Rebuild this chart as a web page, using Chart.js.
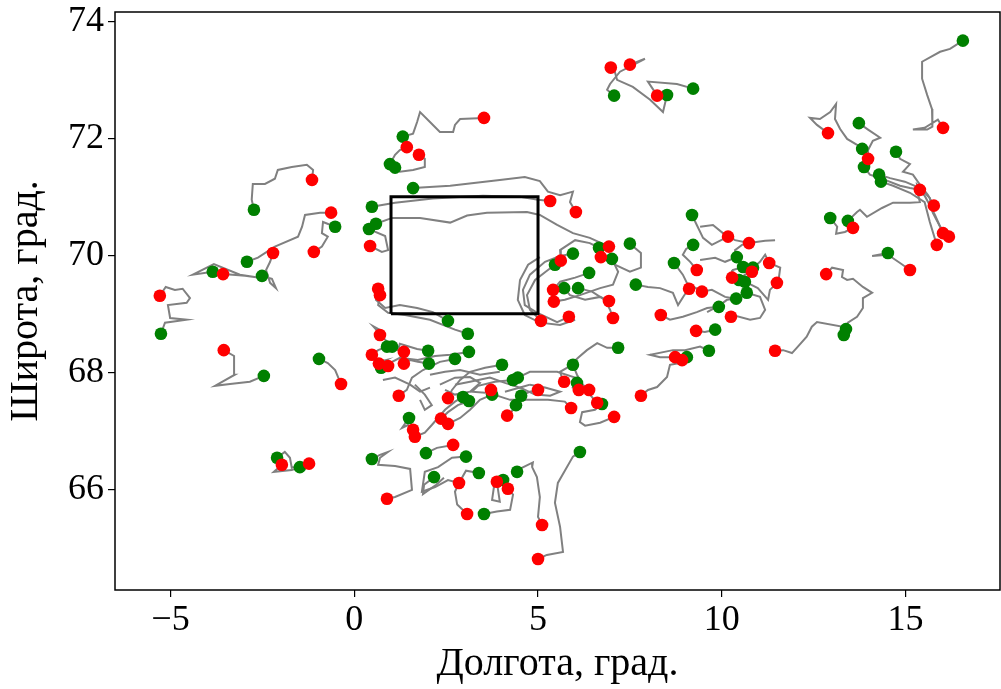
<!DOCTYPE html>
<html>
<head>
<meta charset="utf-8">
<script src="https://cdn.jsdelivr.net/npm/chart.js@4.4.1/dist/chart.umd.min.js"></script>
<style>
  html, body { margin: 0; padding: 0; background: #fff; }
  #chart-container { width: 1001px; height: 689px; }
</style>
</head>
<body>
<div id="chart-container"><canvas id="myChart" width="1001" height="689"></canvas></div>
<script>
// axis ticks
const xTicks = [-5, 0, 5, 10, 15]
const yTicks = [66, 68, 70, 72, 74]

// study area box (lon / lat corners)
const boxLon = [1, 1, 5, 5, 1]
const boxLat = [69, 71, 71, 69, 69]

// drifter tracks, [lon, lat]
const tracks = [
  // west
  [[-2.73,70.78],[-2.79,70.95],[-2.76,71.22],[-2.43,71.22],[-2.16,71.31],[-2.08,71.46],[-1.70,71.51],[-1.29,71.55],[-1.12,71.46],[-1.15,71.29]],
  [[-2.92,69.89],[-2.62,69.96],[-2.16,70.15],[-1.53,70.32],[-1.42,70.49],[-1.34,70.69],[-0.93,70.73],[-0.63,70.73]],
  [[-0.52,70.49],[-0.85,70.57],[-0.88,70.38],[-0.72,70.32],[-0.88,70.15],[-1.10,70.06]],
  [[-3.85,69.72],[-4.39,69.67],[-3.82,69.85],[-3.11,69.67],[-2.62,69.62],[-2.97,69.65],[-3.57,69.68]],
  [[-2.51,69.65],[-2.24,69.60],[-2.13,69.44],[-2.29,69.53],[-2.40,69.75],[-2.29,69.89],[-2.21,70.04]],
  [[-5.26,68.66],[-5.15,68.85],[-4.56,68.90],[-5.01,68.93],[-5.07,69.15],[-4.56,69.19],[-4.47,69.27],[-4.67,69.43],[-4.88,69.41],[-5.13,69.46],[-5.29,69.31]],
  [[-2.46,67.94],[-2.84,67.84],[-3.38,67.80],[-3.79,67.77],[-3.25,67.96],[-3.27,68.28],[-3.55,68.38]],
  [[-0.96,68.23],[-0.72,68.16],[-0.52,68.04],[-0.36,67.80]],
  [[-2.10,66.54],[-1.89,66.64],[-1.75,66.54],[-1.70,66.37],[-1.23,66.44]],
  [[-1.48,66.38],[-1.70,66.33],[-2.19,66.30],[-1.97,66.42]],
  [[0.48,66.52],[0.70,66.59],[0.92,66.64],[0.70,66.54],[0.65,66.42],[1.11,66.40],[1.52,66.35],[1.57,65.99],[1.11,65.87],[0.89,65.84]],
  // north-east
  [[16.56,73.67],[16.21,73.53],[15.94,73.48],[15.45,73.31],[15.45,73.02],[15.59,72.74],[15.72,72.50],[15.74,72.33],[15.72,72.20],[15.59,72.15],[15.20,72.15],[15.52,72.18],[15.88,72.32],[16.02,72.18]],
  [[13.73,72.26],[13.98,72.15],[14.31,72.01],[14.11,71.96],[13.98,71.80],[13.98,71.65]],
  [[13.82,71.82],[13.68,71.89],[13.41,71.99],[13.22,72.16],[13.08,72.33],[13.11,72.59],[12.95,72.45],[12.67,72.33],[12.40,72.35],[12.59,72.23],[12.89,72.09]],
  [[13.87,71.51],[14.03,71.38],[14.44,71.29],[14.85,71.19],[15.12,71.15],[15.39,71.12]],
  [[14.74,71.77],[14.85,71.65],[15.12,71.56],[14.93,71.43],[15.20,71.38],[15.39,71.21],[15.61,71.03],[15.77,70.85]],
  [[14.28,71.38],[14.58,71.32],[14.98,71.26],[15.25,71.19],[15.52,71.02],[15.80,70.69],[16.02,70.38]],
  [[14.33,71.26],[14.66,71.19],[15.12,71.07],[15.52,70.91],[15.66,70.57],[15.85,70.18]],
  [[13.43,70.59],[13.68,70.74],[13.76,70.78],[13.95,70.66],[14.36,70.81],[14.66,70.90],[15.12,70.90],[15.39,70.91],[15.33,71.07],[15.31,71.21],[15.66,70.98],[15.74,70.73],[15.94,70.49],[16.18,70.32]],
  [[12.95,70.64],[13.14,70.49],[13.11,70.37],[13.35,70.40],[13.57,70.47]],
  [[14.52,70.04],[14.09,69.99],[14.52,70.01],[14.85,69.87],[15.12,69.75]],
  [[13.38,68.74],[13.43,68.85],[13.68,68.95],[13.84,69.10],[13.84,69.27],[14.09,69.36],[13.84,69.46],[13.57,69.60],[13.41,69.58],[13.27,69.63],[13.30,69.75],[13.00,69.79],[12.84,69.68]],
  [[13.32,68.64],[13.30,68.78],[12.59,68.86],[12.45,68.78],[12.31,68.61],[12.04,68.42],[11.91,68.33],[11.67,68.38],[11.45,68.37]],
  // north
  [[9.22,72.85],[8.78,72.93],[7.99,72.97],[8.18,72.79],[8.24,72.73]],
  [[8.51,72.74],[8.40,72.45],[8.05,72.66],[7.58,72.88],[7.15,73.00],[7.09,73.14],[6.98,73.21]],
  [[7.07,72.73],[6.88,72.83],[6.96,72.93],[7.23,73.14],[7.91,73.36],[7.50,73.26]],
  [[1.32,72.03],[1.60,72.08],[1.71,72.28],[1.79,72.45],[2.06,72.28],[2.33,72.11],[2.69,72.11],[2.74,72.23],[2.88,72.33],[3.53,72.35]],
  [[0.97,71.56],[1.11,71.72],[1.24,71.80],[1.43,71.85]],
  [[1.11,71.50],[1.24,71.43],[1.60,71.46],[1.92,71.51],[1.92,71.65],[1.76,71.72]],
  [[1.60,71.15],[2.61,71.19],[3.96,71.29],[4.64,71.34],[5.05,71.27],[5.27,71.09],[5.60,71.03],[5.95,71.09],[5.87,70.91],[6.03,70.74]],
  [[0.48,70.83],[1.11,70.90],[2.14,70.97],[3.50,71.02],[4.51,71.00],[5.00,70.95],[5.33,70.93]],
  [[0.59,70.54],[1.03,70.64],[1.79,70.64],[2.61,70.56],[3.07,70.68],[3.61,70.73],[4.70,70.74],[5.05,70.69],[5.52,70.52],[5.95,70.38],[6.41,70.30],[6.93,70.15]],
  [[0.40,70.45],[0.84,70.33],[0.92,70.09],[0.75,70.06],[0.43,70.16]],
  [[2.55,68.88],[2.14,69.03],[1.71,69.10],[1.24,69.15],[0.84,69.10],[0.59,69.24],[0.65,69.43]],
  [[3.09,68.66],[2.74,68.73],[2.06,68.90],[1.38,68.98],[0.92,69.02],[0.65,69.15],[0.70,69.32]],
  // east of the box
  [[5.95,70.03],[5.60,69.99],[5.19,69.89],[4.78,69.67],[4.59,69.41],[4.64,69.15],[4.97,69.02],[5.52,68.86],[5.84,68.95]],
  [[5.46,69.84],[5.27,69.75],[4.92,69.58],[4.70,69.32],[4.78,69.07],[5.08,68.88]],
  [[6.66,70.13],[6.41,70.21],[6.01,70.26],[5.60,70.09],[5.62,69.91]],
  [[7.01,69.94],[7.18,69.72],[7.04,69.50],[6.69,69.44],[6.14,69.32],[5.73,69.24],[5.43,69.21]],
  [[6.39,69.70],[6.01,69.62],[5.60,69.55],[5.41,69.41]],
  [[5.71,69.44],[5.87,69.32],[6.28,69.24],[6.69,69.29],[6.93,69.22]],
  [[6.09,69.44],[6.47,69.38],[6.82,69.24],[6.96,69.07],[7.04,68.93]],
  [[7.50,70.20],[7.80,70.04],[7.80,69.79],[7.50,69.72],[7.09,69.84],[6.71,69.97]],
  [[7.66,69.50],[7.99,69.46],[8.32,69.44],[8.67,69.36],[8.81,69.15],[8.97,69.31],[9.11,69.43]],
  [[5.05,69.97],[4.73,69.84],[4.51,69.58],[4.45,69.24],[4.64,68.98],[5.05,68.85],[5.60,68.81],[6.01,68.90]],
  // central east cluster
  [[9.19,70.69],[9.32,70.52],[9.49,70.30],[9.73,70.18],[10.17,70.32]],
  [[9.22,70.18],[9.03,70.11],[8.94,70.01],[9.14,69.89],[9.32,69.75]],
  [[8.70,69.87],[8.94,69.67],[9.05,69.53],[9.46,69.38]],
  [[10.41,69.97],[10.36,70.09],[10.55,70.18],[10.74,70.21]],
  [[10.58,69.80],[10.30,69.75],[10.28,69.62]],
  [[10.85,69.79],[11.04,69.89],[11.18,70.01],[11.29,69.87]],
  [[10.47,69.58],[10.63,69.67],[10.82,69.72]],
  [[10.63,69.55],[10.98,69.44],[11.26,69.24],[11.31,69.41],[11.50,69.53]],
  [[10.68,69.36],[11.04,69.29],[11.18,69.07],[11.04,68.93],[10.77,68.90],[10.30,68.98],[10.25,68.95]],
  [[10.39,69.26],[10.09,69.29],[9.73,69.41],[9.46,69.38]],
  [[9.92,69.12],[9.60,69.10],[9.32,69.03],[8.94,68.95],[8.59,68.90],[8.34,68.98]],
  [[9.82,68.73],[9.54,68.69],[9.30,68.71]],
  [[9.65,68.37],[9.41,68.44],[9.00,68.38],[8.67,68.38],[8.05,68.30],[8.32,68.26],[8.73,68.26]],
  [[9.05,68.26],[8.86,68.16],[8.59,68.13],[8.51,67.92],[8.24,67.75],[7.99,67.70],[7.80,67.60]],
  [[9.41,70.49],[9.76,70.52],[10.03,70.38],[10.36,70.26],[10.74,70.21],[11.18,70.25],[11.45,70.26]],
  [[11.29,69.87],[11.59,69.79],[11.54,69.55]],
  [[9.41,69.92],[9.82,69.96],[10.09,69.89],[10.41,69.97]],
  [[9.60,69.03],[9.95,69.15],[10.14,69.24],[10.39,69.26]],
  // central south
  [[1.03,68.44],[0.84,68.56],[0.51,68.79],[0.75,68.71],[0.70,68.64]],
  [[0.89,68.44],[0.65,68.38],[0.48,68.30]],
  [[0.73,68.08],[0.65,68.18],[0.86,68.21],[0.67,68.15]],
  [[3.12,68.35],[2.61,68.30],[2.20,68.28],[1.73,68.21],[1.24,68.25],[1.03,68.18],[0.92,68.11]],
  [[2.01,68.37],[1.71,68.40],[1.24,68.49],[1.19,68.38],[1.35,68.35]],
  [[2.03,68.15],[1.73,68.18],[1.52,68.21],[1.35,68.15]],
  [[2.74,68.23],[2.33,68.18],[1.87,68.04],[1.57,67.91],[1.43,67.70],[1.21,67.60]],
  [[1.49,67.22],[1.30,67.05],[1.46,67.10],[1.60,67.02]],
  [[2.96,67.58],[2.74,67.50],[2.47,67.36],[2.11,67.10],[1.92,66.97],[1.65,66.90]],
  [[3.12,67.51],[2.82,67.44],[2.55,67.32],[2.36,67.21]],
  [[3.75,67.62],[3.42,67.53],[3.15,67.36],[2.88,67.22],[2.55,67.12]],
  [[4.02,68.13],[3.56,68.08],[3.15,68.01],[2.88,67.87],[2.66,67.70],[2.55,67.56]],
  [[4.32,67.87],[3.83,67.84],[3.37,67.77],[3.20,67.67],[3.56,67.65],[3.72,67.70]],
  [[4.45,67.91],[4.78,68.01],[5.52,68.01],[6.01,67.91],[6.41,67.62],[6.61,67.48]],
  [[3.80,67.62],[4.24,67.53],[4.78,67.53],[5.27,67.53],[5.73,67.50],[5.90,67.39]],
  [[4.54,67.60],[4.78,67.67],[5.00,67.70]],
  [[4.40,67.44],[4.29,67.34],[4.16,67.26]],
  [[5.95,68.13],[6.06,67.96],[6.22,67.79],[6.39,67.70]],
  [[6.06,67.82],[5.95,67.74],[6.11,67.70]],
  [[6.74,67.46],[6.55,67.36],[6.20,67.32],[6.14,67.15],[6.28,67.09],[6.69,67.14],[7.07,67.24]],
  [[7.18,68.42],[6.88,68.42],[6.61,68.50],[6.33,68.38],[6.09,68.25],[5.82,68.09],[5.60,68.01],[5.65,67.91],[5.71,67.84]],
  [[2.74,67.79],[3.15,67.84],[3.69,67.91],[4.10,67.82],[4.51,67.74],[4.78,67.79]],
  [[2.06,67.96],[2.47,68.01],[2.88,68.04],[3.42,67.96],[3.96,68.01]],
  [[1.65,67.79],[1.92,67.62],[2.11,67.44],[1.92,67.36],[1.79,67.53]],
  [[2.33,67.79],[2.74,67.91],[3.15,67.92],[3.42,67.82],[3.15,67.67],[2.74,67.62],[2.47,67.70]],
  [[4.10,67.67],[4.51,67.74],[4.92,67.62],[5.33,67.60],[5.60,67.67],[5.19,67.74],[4.78,67.79]],
  [[0.78,67.87],[1.11,67.91],[1.52,67.79],[1.79,67.67],[2.06,67.74]],
  // south
  [[6.14,66.64],[5.95,66.56],[5.54,66.11],[5.46,65.77],[5.60,65.36],[5.68,64.93],[5.24,64.88],[5.00,64.81]],
  [[4.43,66.30],[4.56,66.37],[4.86,66.46],[4.84,66.38],[4.97,66.21],[5.05,65.87],[5.00,65.53],[5.11,65.39]],
  [[3.53,65.58],[3.88,65.62],[4.24,65.65],[4.32,65.91],[4.18,66.01]],
  [[4.05,66.16],[3.80,66.04],[3.75,65.82],[3.96,65.79],[3.88,66.13]],
  [[3.39,66.28],[3.04,66.32],[2.85,66.11]],
  [[2.85,66.11],[2.74,65.96],[2.80,65.74],[3.07,65.58]],
  [[3.04,66.56],[2.66,66.54],[2.28,66.38],[1.92,66.30],[1.84,65.96],[2.20,66.04],[2.55,66.16],[2.85,66.11]],
  [[1.95,66.62],[2.25,66.71],[2.69,66.76]],
  [[2.17,66.21],[1.90,66.08],[1.87,65.92],[2.23,66.08],[2.44,66.20]]
]

// first fixes (green)
const startFixes = [
  [16.56,73.67],[13.73,72.26],[13.82,71.82],[13.87,71.51],[14.74,71.77],[14.28,71.38],[14.33,71.26],
  [12.95,70.64],[13.43,70.59],[14.52,70.04],[13.38,68.74],[13.32,68.64],
  [9.22,72.85],[8.51,72.74],[7.07,72.73],[1.32,72.03],[0.97,71.56],[1.11,71.50],[1.60,71.15],
  [0.48,70.83],[0.59,70.54],[0.40,70.45],[-2.73,70.78],[-2.92,69.89],[-0.52,70.49],[-3.85,69.72],
  [-2.51,69.65],[-5.26,68.66],[-2.46,67.94],[-0.96,68.23],[-2.10,66.54],[-1.48,66.38],[0.48,66.52],
  [0.89,68.44],[1.03,68.44],[0.73,68.08],[2.01,68.37],[2.03,68.15],[2.74,68.23],[3.09,68.66],
  [3.12,68.35],[2.55,68.88],[1.49,67.22],[2.96,67.58],[3.12,67.51],[3.75,67.62],[4.02,68.13],
  [4.32,67.87],[4.45,67.91],[4.54,67.60],[4.40,67.44],[5.95,68.13],[6.06,67.82],[6.74,67.46],
  [7.18,68.42],[6.14,66.64],[4.43,66.30],[3.53,65.58],[4.05,66.16],[3.39,66.28],[3.04,66.56],
  [1.95,66.62],[2.17,66.21],[5.95,70.03],[5.46,69.84],[6.66,70.13],[7.01,69.94],[6.39,69.70],
  [5.71,69.44],[6.09,69.44],[7.50,70.20],[7.66,69.50],[9.19,70.69],[9.22,70.18],[8.70,69.87],
  [10.41,69.97],[10.58,69.80],[10.85,69.79],[10.47,69.58],[10.63,69.55],[10.68,69.36],[10.39,69.26],
  [9.92,69.12],[9.82,68.73],[9.65,68.37],[9.05,68.26]
]

// last fixes (red)
const endFixes = [
  [16.02,72.18],[12.89,72.09],[13.98,71.65],[15.39,71.12],[15.77,70.85],[16.02,70.38],[16.18,70.32],
  [15.85,70.18],[13.57,70.47],[15.12,69.75],[12.84,69.68],[11.45,68.37],
  [8.24,72.73],[6.98,73.21],[7.50,73.26],[3.53,72.35],[1.43,71.85],[1.76,71.72],[-1.15,71.29],
  [-0.63,70.73],[-1.10,70.06],[-2.21,70.04],[-3.57,69.68],[-5.29,69.31],[-3.55,68.38],[-0.36,67.80],
  [-1.97,66.42],[-1.23,66.44],[0.89,65.84],[5.33,70.93],[6.03,70.74],[6.93,70.15],[0.43,70.16],
  [0.65,69.43],[0.70,69.32],[0.70,68.64],[0.48,68.30],[0.67,68.15],[0.92,68.11],[1.35,68.35],
  [1.35,68.15],[1.21,67.60],[1.60,67.02],[1.65,66.90],[2.36,67.21],[2.55,67.12],[2.55,67.56],
  [2.69,66.76],[3.72,67.70],[4.16,67.26],[5.00,67.70],[5.71,67.84],[6.11,67.70],[6.39,67.70],
  [5.90,67.39],[6.61,67.48],[7.07,67.24],[7.80,67.60],[2.85,66.11],[3.07,65.58],[3.88,66.13],
  [4.18,66.01],[5.11,65.39],[5.00,64.81],[5.62,69.91],[6.71,69.97],[5.41,69.41],[5.43,69.21],
  [5.08,68.88],[5.84,68.95],[6.93,69.22],[7.04,68.93],[8.34,68.98],[9.32,69.75],[9.11,69.43],
  [9.46,69.38],[10.17,70.32],[10.74,70.21],[11.29,69.87],[11.50,69.53],[10.82,69.72],[10.28,69.62],
  [10.25,68.95],[9.30,68.71],[8.73,68.26],[8.92,68.21]
]

const toXY = (pairs) => pairs.map(p => ({ x: p[0], y: p[1] }))
const serif = "'Liberation Serif', 'DejaVu Serif', serif"
const fmt = (v) => v < 0 ? '\u2212' + Math.abs(v) : String(v)

// drop the auto padding chart.js adds for labels near the ends
const noPad = (a) => { a.paddingTop = 0; a.paddingBottom = 0; a.paddingLeft = 0; a.paddingRight = 0 }

const datasets = []
datasets.push({ label: 'end', data: toXY(endFixes), backgroundColor: '#ff0000', pointRadius: 6.3, borderWidth: 0, order: 0 })
datasets.push({ label: 'start', data: toXY(startFixes), backgroundColor: '#008000', pointRadius: 6.3, borderWidth: 0, order: 1 })
datasets.push({
  label: 'area',
  data: boxLon.map((x, i) => ({ x: x, y: boxLat[i] })),
  showLine: true, borderColor: '#000', borderWidth: 3, pointRadius: 0, order: 2
})
tracks.forEach((t, i) => {
  datasets.push({
    label: 'track ' + i, data: toXY(t), showLine: true,
    borderColor: '#808080', borderWidth: 2, pointRadius: 0, order: 3
  })
})

const frame = {
  id: 'frame',
  afterDatasetsDraw(chart) {
    const { ctx, chartArea: a } = chart
    ctx.save()
    ctx.strokeStyle = '#000'
    ctx.lineWidth = 1.5
    ctx.strokeRect(a.left, a.top, a.right - a.left, a.bottom - a.top)
    ctx.restore()
  }
}

const config = {
  type: 'scatter',
  data: { datasets: datasets },
  plugins: [frame],
  options: {
    responsive: false,
    animation: false,
    devicePixelRatio: 1,
    layout: { autoPadding: false, padding: { top: 12, right: 1, left: 0, bottom: 0 } },
    plugins: { legend: { display: false }, tooltip: { enabled: false } },
    scales: {
      x: {
        type: 'linear', min: -6.51, max: 17.57,
        afterBuildTicks: (a) => { a.ticks = xTicks.map(v => ({ value: v })) },
        afterFit: (a) => { a.height = 99; noPad(a) },
        grid: { drawOnChartArea: false, tickLength: 7, color: '#000', lineWidth: 1.2 },
        border: { display: false },
        ticks: { font: { family: serif, size: 36 }, color: '#000', padding: 2, maxRotation: 0, autoSkip: false, callback: (v) => fmt(v) },
        title: { display: true, text: 'Долгота, град.', font: { family: serif, size: 40 }, color: '#000', padding: { top: 0, bottom: 1 } }
      },
      y: {
        type: 'linear', min: 64.28, max: 74.16,
        afterBuildTicks: (a) => { a.ticks = yTicks.map(v => ({ value: v })) },
        afterFit: (a) => { a.width = 115; noPad(a) },
        grid: { drawOnChartArea: false, tickLength: 7, color: '#000', lineWidth: 1.2 },
        border: { display: false },
        ticks: { font: { family: serif, size: 36 }, color: '#000', padding: 4, autoSkip: false, callback: (v) => fmt(v) },
        title: { display: true, text: 'Широта, град.', font: { family: serif, size: 40 }, color: '#000', padding: { top: 2, bottom: 0 } }
      }
    }
  }
}

const myChart = new Chart(document.getElementById('myChart'), config)
</script>
</body>
</html>
